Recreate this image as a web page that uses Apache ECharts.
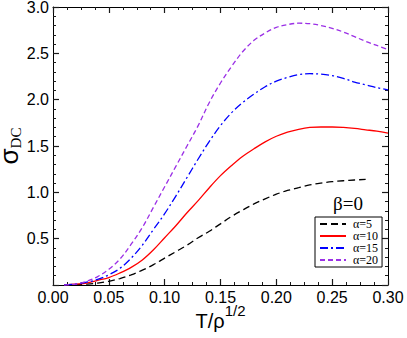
<!DOCTYPE html>
<html>
<head>
<meta charset="utf-8">
<script src="https://cdn.jsdelivr.net/npm/echarts@6/dist/echarts.min.js"></script>
<style>
  html, body { margin: 0; padding: 0; background: #fff; }
  #chart { width: 407px; height: 338px; }
</style>
</head>
<body>
<div id="chart"></div>
<script>
// 横轴 T/ρ^(1/2) 采样点
const tVals = [0.01, 0.02, 0.03, 0.04, 0.05, 0.06, 0.07, 0.08, 0.09, 0.10,
  0.11, 0.12, 0.13, 0.14, 0.15, 0.16, 0.17, 0.18, 0.19, 0.20,
  0.21, 0.22, 0.23, 0.24, 0.25, 0.26, 0.27, 0.28, 0.29, 0.30];

// σ_DC 曲线
const alpha5 = [0, 0.005, 0.01, 0.02, 0.04, 0.07, 0.11, 0.16, 0.22, 0.29,
  0.36, 0.43, 0.51, 0.58, 0.66, 0.74, 0.81, 0.875, 0.93, 0.98,
  1.02, 1.05, 1.08, 1.10, 1.115, 1.125, 1.133, 1.14];
const alpha10 = [0, 0.01, 0.02, 0.05, 0.08, 0.13, 0.19, 0.27, 0.38, 0.51,
  0.64, 0.78, 0.91, 1.05, 1.18, 1.29, 1.39, 1.47, 1.545, 1.605,
  1.65, 1.68, 1.70, 1.705, 1.705, 1.70, 1.69, 1.675, 1.66, 1.64];
const alpha15 = [0, 0.01, 0.03, 0.06, 0.11, 0.18, 0.29, 0.43, 0.60, 0.77,
  0.96, 1.16, 1.36, 1.55, 1.72, 1.86, 1.97, 2.06, 2.14, 2.20,
  2.24, 2.27, 2.28, 2.275, 2.26, 2.23, 2.19, 2.16, 2.13, 2.105];
const alpha20 = [0, 0.01, 0.04, 0.09, 0.17, 0.28, 0.44, 0.62, 0.84, 1.06,
  1.28, 1.50, 1.72, 1.97, 2.18, 2.36, 2.52, 2.64, 2.72, 2.78,
  2.81, 2.825, 2.82, 2.80, 2.77, 2.73, 2.68, 2.63, 2.585, 2.54];

const seriesNames = ['α=5', 'α=10', 'α=15', 'α=20'];
const xTicks = { min: 0, max: 0.30, interval: 0.05 };
const yTicks = { min: 0, max: 3.0, interval: 0.5 };

const SANS = '"Liberation Sans", Arial, sans-serif';
const SERIF = '"Liberation Serif", "Times New Roman", serif';

const chart = echarts.init(document.getElementById('chart'), null, { renderer: 'svg' });

const pairs = arr => arr.map((v, i) => [tVals[i], v]);

// 四边框轴：刻度朝内（刻度样式不能和轴线完全相同，否则内刻度不显示）
function frameAxis(extra, minorSplit) {
  return Object.assign({
    type: 'value',
    axisLine: { show: true, onZero: false, lineStyle: { color: '#000', width: 1 } },
    axisTick: { show: true, inside: true, length: 6, lineStyle: { color: '#1a1a1a', width: 1.2 } },
    minorTick: { show: true, splitNumber: minorSplit, length: 3, lineStyle: { color: '#1a1a1a', width: 1 } },
    splitLine: { show: false },
    minorSplitLine: { show: false }
  }, extra);
}

function lineSeries(name, data, color, dash) {
  return {
    name: name,
    type: 'line',
    data: pairs(data),
    smooth: 0.35,
    symbol: 'none',
    lineStyle: { color: color, width: 1.3, type: dash },
    itemStyle: { color: color },
    z: 3
  };
}

chart.setOption({
  animation: false,
  backgroundColor: '#fff',
  grid: { left: 53, top: 7, right: 19, bottom: 53, outerBoundsMode: 'none', containLabel: false },
  legend: {
    orient: 'vertical',
    left: 315,
    top: 217,
    padding: [1, 4, 1, 4],
    itemGap: 0,
    itemWidth: 26,
    itemHeight: 12,
    borderColor: '#000',
    borderWidth: 1,
    borderRadius: 0,
    backgroundColor: '#fff',
    itemStyle: { opacity: 0 },
    textStyle: { fontFamily: SERIF, fontSize: 12, lineHeight: 12, color: '#000', padding: [0, 0, 0, 2] },
    data: seriesNames
  },
  graphic: [{
    type: 'text',
    left: 333,
    top: 194,
    style: { text: 'β=0', font: '19px ' + SERIF, fill: '#000' }
  }],
  xAxis: [
    frameAxis({
      position: 'bottom',
      min: xTicks.min, max: xTicks.max, interval: xTicks.interval,
      axisLabel: {
        fontFamily: SANS, fontSize: 16, color: '#000', margin: 4,
        formatter: v => v.toFixed(2)
      },
      name: '{a|T/ρ}{b|1/2}',
      nameLocation: 'middle',
      nameGap: 18,
      nameMoveOverlap: false,
      nameTextStyle: {
        rich: {
          a: { fontFamily: SANS, fontSize: 20, color: '#000' },
          b: { fontFamily: SANS, fontSize: 15, color: '#000', padding: [0, 0, 20, 0] }
        }
      }
    }, 4),
    frameAxis({
      position: 'top',
      min: xTicks.min, max: xTicks.max, interval: xTicks.interval,
      axisLabel: { show: false }
    }, 4)
  ],
  yAxis: [
    frameAxis({
      position: 'left',
      min: yTicks.min, max: yTicks.max, interval: yTicks.interval,
      axisLabel: {
        fontFamily: SANS, fontSize: 16, color: '#000', margin: 4,
        formatter: v => (v === 0 ? '' : v.toFixed(1))
      },
      name: '{a|σ}{b|DC}',
      nameLocation: 'middle',
      nameGap: 30,
      nameRotate: 90,
      nameMoveOverlap: false,
      nameTextStyle: {
        rich: {
          a: { fontFamily: SANS, fontSize: 26, color: '#000' },
          b: { fontFamily: SERIF, fontSize: 15, color: '#000', padding: [14, 0, 0, 0] }
        }
      }
    }, 5),
    frameAxis({
      position: 'right',
      min: yTicks.min, max: yTicks.max, interval: yTicks.interval,
      axisLabel: { show: false }
    }, 5)
  ],
  series: [
    lineSeries(seriesNames[0], alpha5, '#000000', [7, 4]),
    lineSeries(seriesNames[1], alpha10, '#ff0000', 'solid'),
    lineSeries(seriesNames[2], alpha15, '#0000ff', [8, 3, 2, 3]),
    lineSeries(seriesNames[3], alpha20, '#9b30e6', [5, 3])
  ]
});
</script>
</body>
</html>
